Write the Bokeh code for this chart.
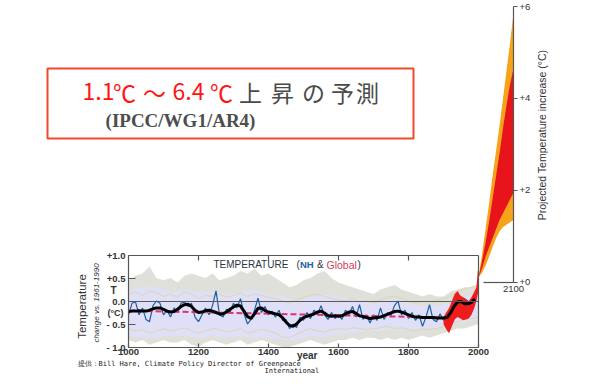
import math
from bokeh.plotting import figure
from bokeh.models import Range1d, LinearAxis, FixedTicker, Label, BoxAnnotation
from bokeh.embed import file_html
from bokeh.resources import INLINE

# ---------------- data ----------------
decades = list(range(1000, 2000, 10))          # 1000 .. 1990
nh_blue = [-0.30, -0.05, -0.02, -0.30, -0.15, -0.40, -0.45, -0.10, 0.00, -0.05,
           -0.30, -0.20, -0.35, -0.15, -0.25, -0.05, -0.02, -0.12, -0.05, -0.35,
           -0.45, -0.30, -0.15, -0.30, -0.10, 0.22, -0.30, -0.35, -0.18, -0.25,
           -0.05, -0.15, 0.05, -0.28, -0.50, -0.40, -0.20, 0.06, -0.25, -0.12,
           -0.30, -0.22, -0.35, -0.20, -0.42, -0.40, -0.60, -0.50, -0.58, -0.35,
           -0.42, -0.25, -0.38, -0.20, -0.30, -0.10, -0.30, -0.40, -0.25, -0.38,
           -0.30, -0.40, -0.20, -0.30, -0.12, -0.35, -0.08, -0.40, -0.30, -0.48,
           -0.30, -0.42, -0.15, -0.40, -0.25, -0.32, -0.10, 0.00, -0.30, -0.20,
           -0.38, -0.25, -0.42, -0.30, -0.55, -0.35, -0.08, -0.40, -0.45, -0.28,
           -0.42, -0.35, -0.22, -0.15, 0.08, -0.10, -0.05, -0.30, -0.10, 0.00]
smooth_black = [-0.23, -0.22, -0.22, -0.21, -0.22, -0.22, -0.20, -0.17, -0.15, -0.15,
                -0.18, -0.22, -0.24, -0.23, -0.18, -0.12, -0.08, -0.07, -0.12, -0.20,
                -0.25, -0.24, -0.21, -0.20, -0.22, -0.25, -0.28, -0.28, -0.24, -0.18,
                -0.13, -0.09, -0.11, -0.22, -0.34, -0.38, -0.28, -0.16, -0.15, -0.21,
                -0.24, -0.26, -0.28, -0.30, -0.36, -0.46, -0.53, -0.55, -0.50, -0.42,
                -0.36, -0.33, -0.31, -0.28, -0.24, -0.22, -0.26, -0.32, -0.33, -0.32,
                -0.33, -0.32, -0.28, -0.24, -0.23, -0.27, -0.32, -0.34, -0.36, -0.38,
                -0.37, -0.36, -0.35, -0.32, -0.29, -0.26, -0.23, -0.22, -0.24, -0.27,
                -0.30, -0.33, -0.35, -0.35, -0.36, -0.36, -0.36, -0.36, -0.37, -0.37,
                -0.37, -0.36, -0.26, -0.12, -0.02, -0.01, -0.06, -0.06, -0.03, 0.04]

years20 = list(range(1000, 2001, 20))          # 1000 .. 2000
gray_hi = [0.45, 0.55, 0.60, 0.75, 0.50, 0.45, 0.50, 0.40, 0.55, 0.60,
           0.55, 0.50, 0.60, 0.45, 0.50, 0.55, 0.65, 0.60, 0.70, 0.55,
           0.60, 0.50, 0.40, 0.30, 0.35, 0.45, 0.50, 0.60, 0.65, 0.50,
           0.40, 0.35, 0.30, 0.25, 0.20, 0.15, 0.25, 0.30, 0.35, 0.25,
           0.20, 0.15, 0.10, 0.15, 0.10, 0.10, 0.20, 0.25, 0.30, 0.30, 0.35]
gray_lo = [-0.85, -0.90, -0.85, -0.95, -0.90, -0.85, -0.90, -0.90, -0.85, -0.95,
           -1.00, -0.90, -0.85, -0.90, -0.95, -0.90, -0.85, -0.95, -0.90, -0.85,
           -0.90, -0.95, -1.00, -1.00, -0.95, -0.90, -0.85, -0.90, -0.95, -0.90,
           -0.85, -0.85, -0.80, -0.85, -0.80, -0.80, -0.85, -0.80, -0.85, -0.80,
           -0.85, -0.80, -0.75, -0.80, -0.75, -0.70, -0.65, -0.60, -0.60, -0.55, -0.50]
lav_hi = [0.25, 0.28, 0.30, 0.30, 0.30, 0.25, 0.20, 0.22, 0.25, 0.22,
          0.20, 0.20, 0.20, 0.18, 0.15, 0.18, 0.20, 0.22, 0.25, 0.20,
          0.15, 0.12, 0.10, 0.05, 0.00, 0.05, 0.10, 0.12, 0.15, 0.12,
          0.10, 0.08, 0.05, 0.02, 0.00, 0.00, 0.00, 0.02, 0.05, 0.02,
          -0.05, -0.08, -0.10, -0.10, -0.10, -0.08, -0.05, 0.00, 0.10, 0.12, 0.15]
lav_lo = [-0.75, -0.78, -0.80, -0.80, -0.80, -0.78, -0.75, -0.75, -0.75, -0.78,
          -0.80, -0.78, -0.75, -0.78, -0.80, -0.78, -0.75, -0.78, -0.80, -0.80,
          -0.80, -0.82, -0.85, -0.85, -0.85, -0.80, -0.75, -0.78, -0.80, -0.75,
          -0.70, -0.70, -0.70, -0.68, -0.65, -0.65, -0.65, -0.62, -0.60, -0.62,
          -0.65, -0.62, -0.60, -0.60, -0.60, -0.55, -0.50, -0.48, -0.45, -0.42, -0.40]
khaki_hi = [0.15, 0.20, 0.12, 0.22, 0.18, 0.10, 0.15, 0.08, 0.20, 0.15,
            0.05, 0.12, 0.10, 0.15, 0.08, 0.12, 0.18, 0.10, 0.15, 0.12,
            0.08, 0.05, 0.00, -0.05, 0.02, 0.08, 0.12, 0.15, 0.10, 0.05,
            0.02, 0.00, 0.05, -0.02, 0.00, -0.05, 0.02, 0.08, 0.10, 0.05,
            0.00, -0.05, 0.00, -0.02, 0.02, 0.05, 0.10, 0.20, 0.25, 0.30, 0.35]
khaki_lo = [-0.60, -0.65, -0.62, -0.70, -0.65, -0.60, -0.65, -0.62, -0.58, -0.65,
            -0.70, -0.65, -0.60, -0.62, -0.68, -0.65, -0.60, -0.70, -0.65, -0.62,
            -0.65, -0.70, -0.78, -0.80, -0.72, -0.65, -0.60, -0.65, -0.68, -0.62,
            -0.60, -0.62, -0.58, -0.60, -0.62, -0.60, -0.58, -0.55, -0.60, -0.58,
            -0.62, -0.65, -0.60, -0.62, -0.60, -0.55, -0.50, -0.45, -0.40, -0.38, -0.35]

trend_years = [1000, 1900]
trend_vals = [-0.21, -0.36]

inst_years = [1900, 1908, 1916, 1924, 1932, 1940, 1948, 1956, 1964, 1972, 1980, 1988, 1994, 1998, 2000]
inst_hi = [-0.35, -0.25, -0.15, 0.00, 0.15, 0.22, 0.12, 0.08, 0.05, 0.00, 0.08, 0.20, 0.30, 0.65, 0.72]
inst_lo = [-0.50, -0.62, -0.70, -0.55, -0.40, -0.35, -0.38, -0.42, -0.40, -0.38, -0.30, -0.15, 0.00, 0.15, 0.20]

proj_years = [2000, 2010, 2020, 2030, 2040, 2050, 2060, 2070, 2080, 2090, 2100]
orange_hi = [0.10, 0.60, 1.15, 1.70, 2.30, 2.85, 3.40, 4.00, 4.60, 5.20, 5.85]
red_hi = [0.10, 0.45, 0.85, 1.30, 1.80, 2.30, 2.80, 3.35, 3.85, 4.30, 4.65]
red_lo = [0.10, 0.30, 0.55, 0.75, 0.95, 1.15, 1.35, 1.50, 1.65, 1.80, 1.95]
orange_lo = [0.10, 0.20, 0.35, 0.55, 0.75, 0.95, 1.10, 1.20, 1.25, 1.30, 1.35]

temp_ticks = [-1.0, -0.5, 0.0, 0.5, 1.0]
temp_tick_labels = ["- 1.0", "- 0.5", "0.0", "+0.5", "+1.0"]
year_ticks = [1000, 1200, 1400, 1600, 1800, 2000]
top_ticks = [1200, 1400, 1600, 1800]
proj_ticks = [0, 2, 4, 6]
proj_tick_labels = ["+0", "+2", "+4", "+6"]

# ---------------- layout (picture pixel anchors) ----------------
W, H = 584, 374
PX_L, PX_R, PX_T, PX_B = 0, W, 0, H
YR_PX0, YR_PPY = 128.0, 0.35        # 1000 at x=128, 0.35 px/year
T0_PX, T_PPU = 300.5, 46.0          # main temperature 0 at y=300.5
P0_PX, P_PPU = 281.5, 45.9          # projection 0 at y=281.5


def yr(px):
    return 1000 + (px - YR_PX0) / YR_PPY


p = figure(width=W, height=H, x_range=Range1d(PX_L, PX_R), y_range=Range1d(PX_B, PX_T),
           output_backend="svg", toolbar_location=None, x_axis_type=None, y_axis_type=None,
           min_border=0, outline_line_color=None, background_fill_color="white")
p.extra_x_ranges = {"year": Range1d(yr(PX_L), yr(PX_R))}
p.extra_y_ranges = {
    "temp": Range1d(-(PX_B - T0_PX) / T_PPU, (T0_PX - PX_T) / T_PPU),
    "proj": Range1d(-(PX_B - P0_PX) / P_PPU, (P0_PX - PX_T) / P_PPU),
}
MT = dict(x_range_name="year", y_range_name="temp")
PR = dict(x_range_name="year", y_range_name="proj")

# uncertainty bands
p.varea(x=years20, y1=gray_lo, y2=gray_hi, fill_color="#e0e0da", **MT)
p.varea(x=years20, y1=lav_lo, y2=lav_hi, fill_color="#dfdff7", **MT)
p.line(years20, khaki_hi, line_color="#dcd8aa", line_width=1.0, **MT)
p.line(years20, khaki_lo, line_color="#dcd8aa", line_width=1.0, **MT)
# NH series
p.line(decades, nh_blue, line_color="#1f5ca6", line_width=1.2, **MT)
# instrumental
p.varea(x=inst_years, y1=inst_lo, y2=inst_hi, fill_color="#ee1c1c", **MT)
# trend & smoothed
p.line(trend_years, trend_vals, line_color="#e0307a", line_width=2, line_dash="6 3", **MT)
p.line(decades, smooth_black, line_color="black", line_width=3, **MT)
# projection fan
p.varea(x=proj_years, y1=orange_lo, y2=orange_hi, fill_color="#f6a21a", **PR)
p.varea(x=proj_years, y1=red_lo, y2=red_hi, fill_color="#e8141b", **PR)

# ---------------- axes ----------------
AX = dict(axis_line_color="#555555", axis_line_width=1.2, major_tick_line_color="#555555",
          major_tick_line_width=1.2, minor_tick_line_color=None,
          major_label_text_font="Liberation Sans", major_label_text_font_size="9.5px",
          major_label_text_font_style="bold", major_label_text_color="#333333")
AX_NOLAB = {k: v for k, v in AX.items() if k != "major_label_text_color"}

ax_left = LinearAxis(fixed_location=1000, bounds=(-1, 1),
                     ticker=FixedTicker(ticks=temp_ticks, minor_ticks=[]),
                     major_label_overrides=dict(zip(temp_ticks, temp_tick_labels)),
                     major_tick_in=7, major_tick_out=0, major_label_standoff=3, **MT, **AX)
p.add_layout(ax_left, "left")

ax_right = LinearAxis(fixed_location=2000, bounds=(-1, 1),
                      ticker=FixedTicker(ticks=[], minor_ticks=[]),
                      major_tick_in=0, major_tick_out=0, major_label_text_color=None,
                      **MT, **AX_NOLAB)
p.add_layout(ax_right, "right")

ax_bottom = LinearAxis(fixed_location=-1.0, bounds=(1000, 2000),
                       ticker=FixedTicker(ticks=year_ticks, minor_ticks=[]),
                       major_tick_in=4, major_tick_out=0, major_label_standoff=2, **MT, **AX)
p.add_layout(ax_bottom, "below")

ax_top = LinearAxis(fixed_location=1.0, bounds=(1000, 2000),
                    ticker=FixedTicker(ticks=top_ticks, minor_ticks=[]),
                    major_tick_in=5, major_tick_out=0, major_label_text_color=None,
                    **MT, **AX_NOLAB)
p.add_layout(ax_top, "above")

ax_zero = LinearAxis(fixed_location=0.0, bounds=(1000, 2000),
                     ticker=FixedTicker(ticks=[], minor_ticks=[]),
                     major_tick_in=0, major_tick_out=0, major_label_text_color=None,
                     axis_line_color="#5a5a5a", axis_line_width=1.0, **MT)
p.add_layout(ax_zero, "below")

PAX = dict(AX)
PAX["major_label_text_font_style"] = "normal"
ax_proj = LinearAxis(fixed_location=2100, bounds=(0, 6),
                     ticker=FixedTicker(ticks=proj_ticks, minor_ticks=[]),
                     major_label_overrides=dict(zip(proj_ticks, proj_tick_labels)),
                     major_tick_in=0, major_tick_out=4, major_label_standoff=2, **PR, **PAX)
p.add_layout(ax_proj, "right")

ax_proj_b = LinearAxis(fixed_location=0, bounds=(2014, 2100),
                       ticker=FixedTicker(ticks=[2100], minor_ticks=[]),
                       major_tick_in=0, major_tick_out=0, major_label_standoff=4, **PR, **PAX)
p.add_layout(ax_proj_b, "below")

# ---------------- texts ----------------
def lab(x, y, text, size, color="#333333", font="Liberation Sans", style="normal",
        align="center", baseline="middle", angle=0.0):
    p.add_layout(Label(x=x, y=y, text=text, text_font=font, text_font_size=size,
                       text_font_style=style, text_color=color, text_align=align,
                       text_baseline=baseline, angle=angle))

# title box
p.add_layout(BoxAnnotation(left=47, right=413, top=68, bottom=138, fill_color="white",
                           fill_alpha=1.0, line_color="#f04a2a", line_width=2, line_alpha=1.0))
CJK = "Noto Sans CJK JP"
for t, x in zip(["1.1", "℃", "～", "6.4", "℃"], [98, 124, 154, 188, 221]):
    lab(x, 91, t, "23px", color="#ff1414", font=CJK)
for t, x in zip(["上", "昇", "の", "予", "測"], [250, 282, 313, 342, 367]):
    lab(x, 91, t, "23px", color="#4a4a4a", font=CJK)
lab(180, 120, "(IPCC/WG1/AR4)", "19px", color="#4d4d4d", font="Liberation Serif", style="bold")

# inner title
lab(213, 264, "TEMPERATURE", "10px", color="#2b3440", align="left")
lab(296, 264, "(", "10px", color="#2b3440", align="left")
lab(299.5, 264, "NH", "9.5px", color="#2060a8", style="bold", align="left")
lab(316.5, 264, "&", "10px", color="#2b3440", align="left")
lab(326, 264, "Global", "10.5px", color="#d6405c", align="left")
lab(357, 264, ")", "10px", color="#2b3440", align="left")

# axis titles
lab(81.5, 306, "Temperature", "11.5px", color="#333333", angle=math.pi / 2)
lab(95.5, 302.5, "change vs. 1961-1990", "8px", color="#333333", style="italic", angle=math.pi / 2)
lab(113, 290, "T", "10px", color="#333333", style="bold")
lab(115, 312, "(°C)", "9px", color="#333333", style="bold")
lab(306.7, 354.5, "year", "10px", color="#333333", style="bold")
lab(541.7, 133, "Projected Temperature increase  (°C)", "10.5px", color="#333333",
    angle=math.pi / 2)

# footer (compressed upward so it stays inside the canvas)
lab(77, 363, "提供：Bill Hare, Climate Policy Director of Greenpeace", "7px",
    color="#1a1a1a", font="DejaVu Sans Mono", align="left")
lab(264, 370, "International", "7px", color="#1a1a1a", font="DejaVu Sans Mono",
    align="left")

open("out.html", "w").write(file_html(p, INLINE))
